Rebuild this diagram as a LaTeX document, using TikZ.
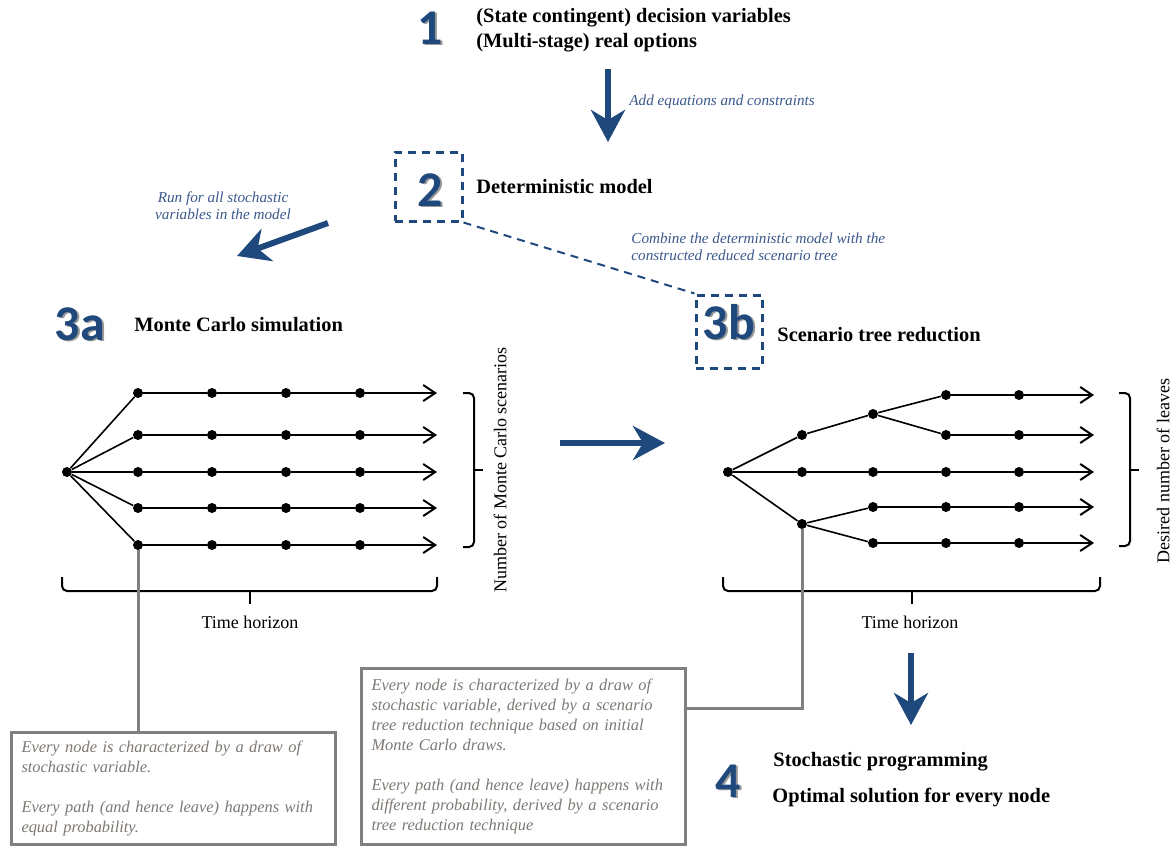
\documentclass[tikz,border=0pt]{standalone}
\usepackage{fontspec}
\setmainfont{Liberation Serif}
\newfontfamily\numfont{Carlito}
\usetikzlibrary{arrows.meta}

\definecolor{darkblue}{RGB}{31,73,125}
\definecolor{hintblue}{RGB}{58,88,140}
\definecolor{linkgray}{RGB}{128,128,128}
\definecolor{notegray}{RGB}{125,120,115}

\tikzset{
  bignum/.style={font=\numfont\bfseries\fontsize{25}{25}\selectfont, text=darkblue,
    inner sep=0pt, anchor=base},
  numshadow/.style={bignum, text=black!40},
  headline/.style={font=\bfseries\fontsize{10.2}{12}\selectfont, anchor=west, inner sep=0pt},
  hint/.style={font=\itshape\fontsize{7.6}{8.5}\selectfont, text=hintblue, inner sep=0pt},
  note/.style={draw=linkgray, line width=1.5pt, anchor=north west, align=left,
    font=\itshape\fontsize{8.2}{10}\selectfont, text=notegray, inner xsep=5pt,
    text width=152pt},
  dot/.style={circle, fill=black, inner sep=0pt, minimum size=5pt},
  flow/.style={draw=darkblue, line width=3pt, -{Stealth[length=16pt,width=17pt,inset=5pt]}},
  scen/.style={line width=1pt, -{Straight Barb[length=6pt,width=8pt]}},
  branch/.style={line width=0.8pt},
  stagebox/.style={draw=darkblue, line width=1.5pt, dash pattern=on 4pt off 3pt},
  link/.style={draw=linkgray, line width=1.5pt},
  bracket/.style={line width=1pt, rounded corners=2.5pt},
  axislabel/.style={font=\fontsize{9}{10}\selectfont, inner sep=0pt}
}

% stage number with a grey shadow (#2 = baseline centre)
\newcommand{\stagenum}[3]{%
  \node[numshadow, xshift=0.9pt, yshift=-0.9pt] at (#2) {#3};
  \node[bignum] (#1) at (#2) {#3};}
% bracket to the right: x, top y, bottom y
\newcommand{\sidebracket}[3]{%
  \draw[bracket] (#1,#2) -- ({#1+11},#2) -- ({#1+11},#3) -- (#1,#3);
  \draw[line width=1pt] ({#1+11},{(#2+#3)/2}) -- ({#1+20},{(#2+#3)/2});}
% bracket below: y, left x, right x
\newcommand{\timebracket}[3]{%
  \draw[bracket] (#2,#1) -- (#2,{#1+14}) -- (#3,{#1+14}) -- (#3,#1);
  \draw[line width=1pt] ({(#2+#3)/2},{#1+14}) -- ({(#2+#3)/2},{#1+27});}

\begin{document}
\begin{tikzpicture}[x=0.5pt, y=-0.5pt]
  \useasboundingbox (0,0) rectangle (1171,846);

  % step 1
  \coordinate (p1) at (430,44);
  \stagenum{n1}{p1}{1}
  \node[headline] (t1a) at (476,18) {(State contingent) decision variables};
  \node[headline] (t1b) at (476,43) {(Multi-stage) real options};
  \coordinate (a1s) at (608,69);
  \coordinate (a1e) at (608,142);
  \draw[flow] (a1s) -- (a1e);
  \node[hint, anchor=west] (h1) at (629,102) {Add equations and constraints};

  % step 2
  \node[stagebox, minimum width=33.5pt, minimum height=34.5pt] (box2) at (428.5,186.5) {};
  \coordinate (p2) at (430,206);
  \stagenum{n2}{p2}{2}
  \node[headline] (t2) at (476,187) {Deterministic model};

  % step 3b box and dashed link
  \node[stagebox, minimum width=33pt, minimum height=36.5pt] (box3b) at (729,331.5) {};
  \coordinate (p3b) at (729,339);
  \stagenum{n3b}{p3b}{3b}
  \node[headline] (t3b) at (777,335) {Scenario tree reduction};
  \draw[darkblue, line width=1pt, dash pattern=on 4pt off 3pt] (box2.south east) -- (box3b.north west);
  \node[hint, anchor=west, align=left] (h2) at (631,247)
    {Combine the deterministic model with the\\constructed reduced scenario tree};

  % to Monte Carlo
  \coordinate (a2s) at (328,223);
  \coordinate (a2e) at (237,256);
  \draw[flow] (a2s) -- (a2e);
  \node[hint, align=center] (h3) at (223,206) {Run for all stochastic\\variables in the model};

  % step 3a
  \coordinate (p3a) at (80,340);
  \stagenum{n3a}{p3a}{3a}
  \node[headline] (t3a) at (134,325) {Monte Carlo simulation};

  % Monte Carlo fan
  \node[dot] (Lroot) at (67,472) {};
  \foreach \j/\y in {1/393,2/435,3/472,4/508,5/545} {
    \foreach \i/\x in {1/138,2/212,3/286,4/360}
      \node[dot] (L\i\j) at (\x,\y) {};
    \coordinate (Ltip\j) at (437,\y);
    \draw[scen] (L1\j) -- (L2\j) -- (L3\j) -- (L4\j) -- (Ltip\j);
    \draw[branch] (Lroot) -- (L1\j);
  }
  \sidebracket{463}{393}{547}
  \node[axislabel, rotate=90] (nmc) at (500,470) {Number of Monte Carlo scenarios};
  \timebracket{577}{62}{437}
  \node[axislabel] (thl) at (250,622) {Time horizon};

  % reduce
  \coordinate (a3s) at (560,443);
  \coordinate (a3e) at (665,443);
  \draw[flow] (a3s) -- (a3e);

  % reduced tree
  \node[dot] (Rroot) at (728,472) {};
  \node[dot] (a1) at (802,435) {};
  \node[dot] (a2) at (873,414) {};
  \node[dot] (a3) at (946,395) {};
  \node[dot] (a4) at (1019,395) {};
  \node[dot] (b3) at (946,435) {};
  \node[dot] (b4) at (1019,435) {};
  \node[dot] (c1) at (802,472) {};
  \node[dot] (c2) at (873,472) {};
  \node[dot] (c3) at (946,472) {};
  \node[dot] (c4) at (1019,472) {};
  \node[dot] (d1) at (802,524) {};
  \node[dot] (d2) at (873,507) {};
  \node[dot] (d3) at (946,507) {};
  \node[dot] (d4) at (1019,507) {};
  \node[dot] (e2) at (873,543) {};
  \node[dot] (e3) at (946,543) {};
  \node[dot] (e4) at (1019,543) {};
  \foreach \y/\k in {395/a,435/b,472/c,507/d,543/e}
    \coordinate (Rtip\k) at (1094,\y);
  \draw[branch] (Rroot) -- (a1) -- (a2) -- (a3);
  \draw[branch] (a2) -- (b3);
  \draw[branch] (Rroot) -- (c1);
  \draw[branch] (Rroot) -- (d1) -- (d2);
  \draw[branch] (d1) -- (e2);
  \draw[scen] (a3) -- (a4) -- (Rtipa);
  \draw[scen] (b3) -- (b4) -- (Rtipb);
  \draw[scen] (c1) -- (c2) -- (c3) -- (c4) -- (Rtipc);
  \draw[scen] (d2) -- (d3) -- (d4) -- (Rtipd);
  \draw[scen] (e2) -- (e3) -- (e4) -- (Rtipe);
  \sidebracket{1119}{393}{546}
  \node[axislabel, rotate=90] (dnl) at (1163,471) {Desired number of leaves};
  \timebracket{577}{723}{1100}
  \node[axislabel] (thr) at (910,622) {Time horizon};

  % notes
  \node[note, minimum height=56pt] (notel) at (10,731)
    {Every node is characterized by a draw of\\
     stochastic variable.\\[10pt]
     Every path (and hence leave) happens with\\
     equal probability.};
  \node[note, minimum height=88pt] (noter) at (360,667)
    {Every node is characterized by a draw of\\
     stochastic variable, derived by a scenario\\
     tree reduction technique based on initial\\
     Monte Carlo draws.\\[10pt]
     Every path (and hence leave) happens with\\
     different probability, derived by a scenario\\
     tree reduction technique};
  \draw[link] (L15.south) -- (L15 |- notel.north);
  \coordinate (bend) at (802,708);
  \draw[link] (d1.south) -- (bend) -- (bend -| noter.east);

  % step 4
  \coordinate (a4s) at (911,653);
  \coordinate (a4e) at (911,725);
  \draw[flow] (a4s) -- (a4e);
  \coordinate (p4) at (728,797);
  \stagenum{n4}{p4}{4}
  \node[headline] (t4a) at (773,762) {Stochastic programming};
  \node[headline] (t4b) at (772,798) {Optimal solution for every node};
\end{tikzpicture}
\end{document}
